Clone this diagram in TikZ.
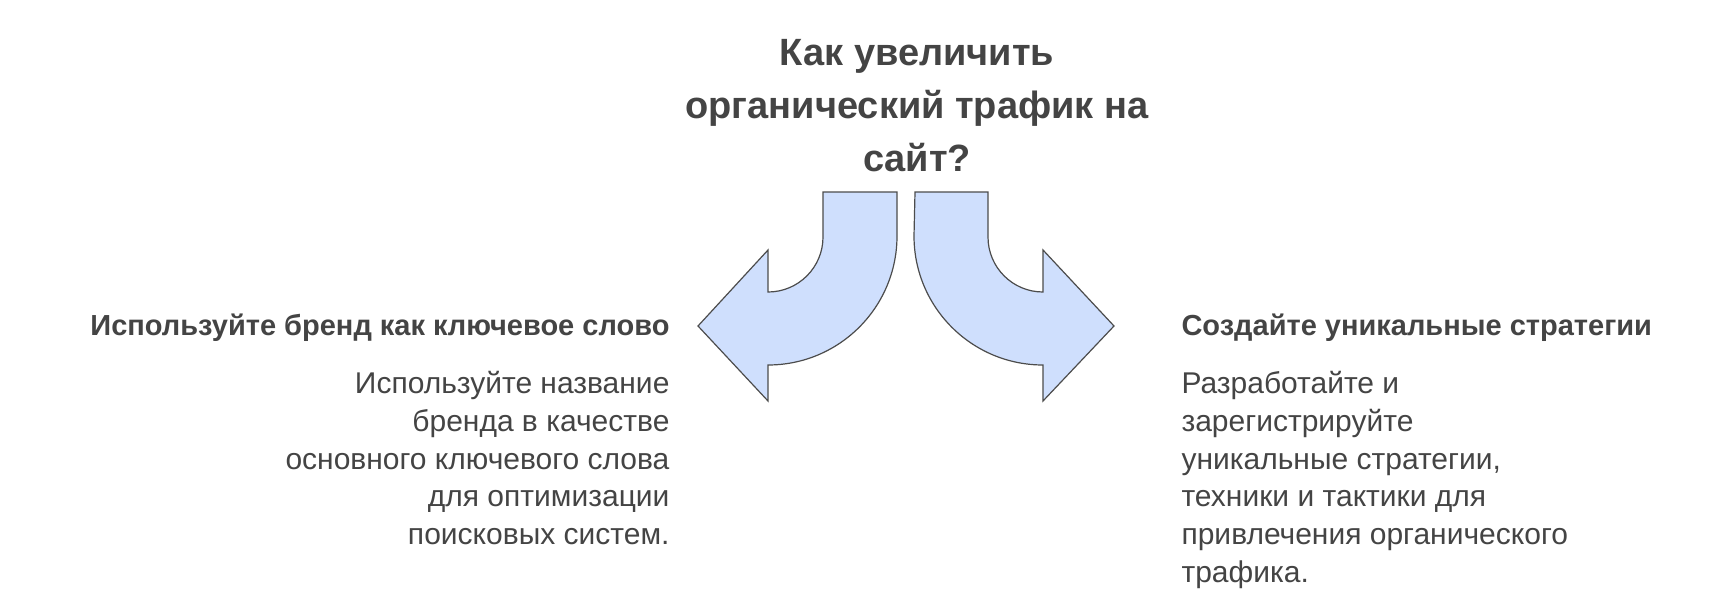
\documentclass[tikz,border=0pt]{standalone}
\usepackage{fontspec}
\setmainfont{Liberation Sans}
\begin{document}
\begin{tikzpicture}[x=1pt,y=-1pt,
  arr/.style={fill=arrowfill,draw=black!70,line width=1.2pt,line join=miter},
  ttl/.style={font=\fontsize{38}{53}\selectfont\bfseries,text=txt,align=center},
  hd/.style={font=\fontsize{29}{35}\selectfont\bfseries,text=txt},
  bd/.style={font=\fontsize{30}{37.7}\selectfont,text=txt}]
\definecolor{arrowfill}{HTML}{CFDFFD}
\definecolor{txt}{HTML}{444444}
\useasboundingbox (0,0) rectangle (1729,615);
\node[ttl] (title) at (917,106) {Как увеличить\\органический трафик на\\сайт?};
\draw[arr] (823,192) -- (823,237) arc[start angle=0,end angle=90,radius=55] -- (768,250) -- (698,326) -- (768,401) -- (768,365) arc[start angle=90,end angle=0,radius=129] -- (897,192) -- cycle;
\draw[arr] (988,192) -- (988,237) arc[start angle=180,end angle=90,radius=55] -- (1043,250) -- (1114,326) -- (1043,401) -- (1043,365) arc[start angle=90,end angle=180,radius=129] -- (915,192) -- cycle;
\node[hd,anchor=east] (lh) at (673,328) {Используйте бренд как ключевое слово};
\node[bd,anchor=north east,align=right] (lb) at (673,368) {Используйте название\\бренда в качестве\\основного ключевого слова\\для оптимизации\\поисковых систем.};
\node[hd,anchor=west] (rh) at (1178,328) {Создайте уникальные стратегии};
\node[bd,anchor=north west,align=left] (rb) at (1178,368) {Разработайте и\\зарегистрируйте\\уникальные стратегии,\\техники и тактики для\\привлечения органического\\трафика.};
\end{tikzpicture}
\end{document}
